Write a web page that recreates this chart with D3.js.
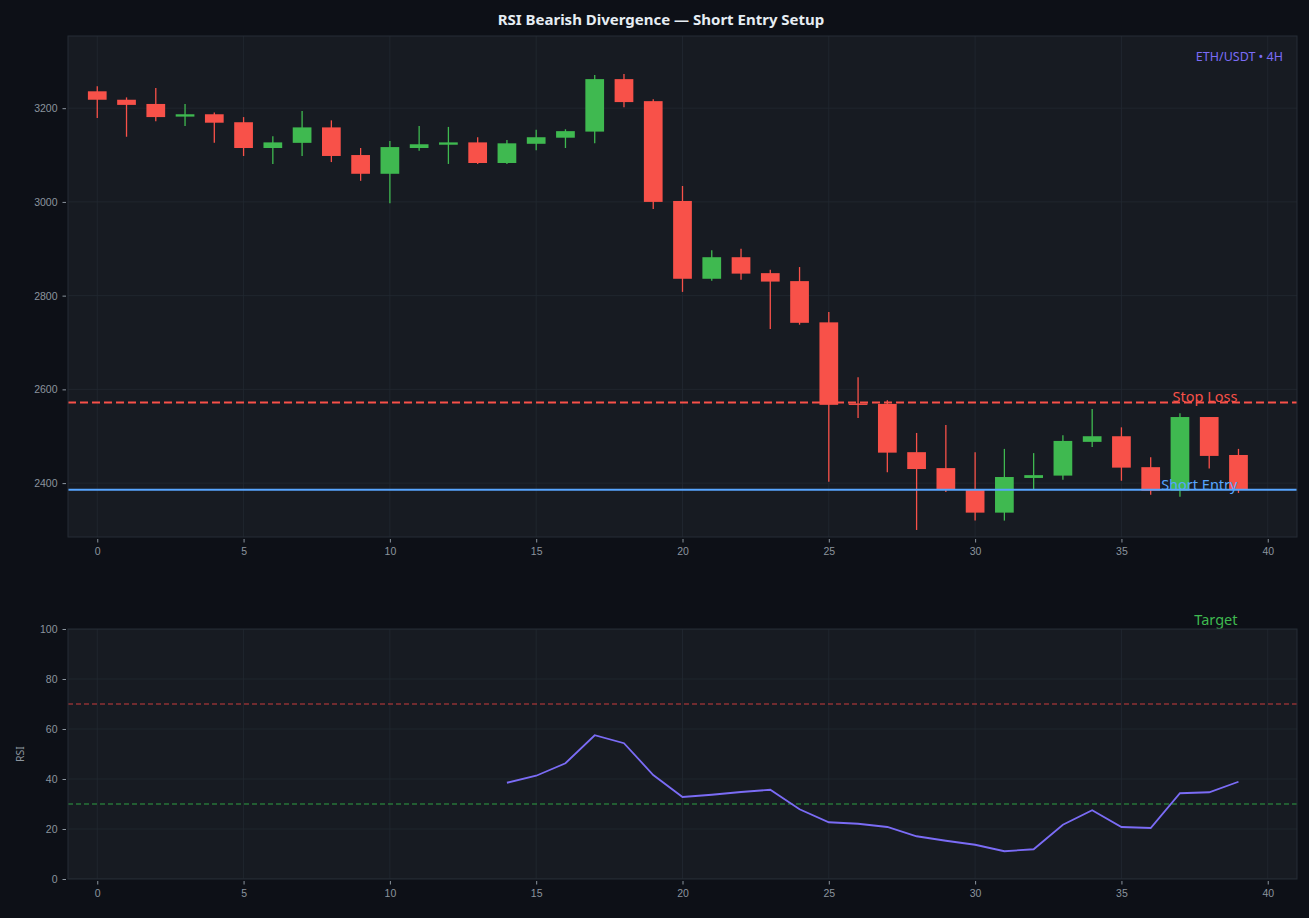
<!DOCTYPE html>
<html>
<head>
<meta charset="utf-8">
<script src="https://cdn.jsdelivr.net/npm/d3@7"></script>
<style>
  body { margin: 0; background: #0d1017; }
  svg { display: block; font-family: "Noto Sans", sans-serif; }
  .tick text { fill: #8b949e; font-size: 10.5px; }
  .tick line { stroke: #8b949e; }
  .domain { display: none; }
</style>
</head>
<body>
<div class="chart"></div>
<script>
// candle data
const candleIdx = d3.range(40);
const opens  = [3236,3218,3209,3182,3187,3170,3115,3126,3159,3100,3060,3115,3122,3127,3083,3124,3137,3150,3262,3215,
                3002,2836,2882,2848,2831,2743,2570,2569,2466,2432,2387,2337,2411,2416,2488,2500,2434,2384,2541,2460];
const highs  = [3247,3223,3243,3209,3191,3181,3140,3194,3174,3115,3130,3162,3160,3138,3132,3154,3155,3271,3273,3219,
                3034,2897,2900,2855,2861,2765,2626,2577,2507,2524,2466,2473,2464,2502,2558,2519,2455,2549,2541,2473];
const lows   = [3179,3139,3172,3162,3126,3098,3081,3098,3085,3045,2997,3109,3081,3081,3081,3110,3115,3125,3202,2985,
                2808,2832,2834,2729,2738,2403,2539,2423,2300,2381,2320,2320,2387,2407,2477,2405,2375,2371,2431,2379];
const closes = [3218,3207,3181,3187,3169,3115,3127,3159,3098,3060,3117,3123,3127,3083,3125,3138,3151,3262,3213,3000,
                2836,2882,2847,2830,2742,2567,2567,2465,2430,2387,2337,2413,2417,2490,2500,2433,2384,2541,2458,2387];

// RSI(14) - first 14 bars have no value
const rsiValues = [null,null,null,null,null,null,null,null,null,null,null,null,null,null,
                   38.5,41.3,46.3,57.5,54.3,41.6,32.8,33.7,34.8,35.7,27.9,22.7,22.1,20.8,17.1,15.3,
                   13.7,11.1,11.9,21.7,27.5,20.8,20.4,34.3,34.7,38.9];

const levelNames  = ['Stop Loss', 'Short Entry', 'Target'];
const levelPrices = [2572, 2386, 2097];
const levelColors = ['#f85149', '#58a6ff', '#3fb950'];

const xTicks     = [0, 5, 10, 15, 20, 25, 30, 35, 40];
const priceTicks = [2400, 2600, 2800, 3000, 3200];
const rsiTicks   = [0, 20, 40, 60, 80, 100];
const rsiLevels  = [70, 30];

const W = 1309, H = 918;
const plotL = 68, plotR = 1297;
const top1 = 36, bot1 = 537;
const top2 = 629, bot2 = 879;

const upColor = '#3fb950', downColor = '#f85149';
const gridColor = '#222831';

const candles = candleIdx.map(i => ({i, o: opens[i], h: highs[i], l: lows[i], c: closes[i]}));

const svg = d3.select('.chart').append('svg')
    .attr('width', W).attr('height', H);

svg.append('rect').attr('width', W).attr('height', H).attr('fill', '#0d1017');

const x = d3.scaleLinear().domain([-1, 41]).range([plotL, plotR]);
const yPrice = d3.scaleLinear().domain([2285, 3354]).range([bot1, top1]);
const yRsi = d3.scaleLinear().domain([0, 100]).range([bot2, top2]);

const defs = svg.append('defs');
defs.append('clipPath').attr('id', 'clip1').append('rect')
    .attr('x', plotL).attr('y', top1).attr('width', plotR - plotL).attr('height', bot1 - top1);
defs.append('clipPath').attr('id', 'clip2').append('rect')
    .attr('x', plotL).attr('y', top2).attr('width', plotR - plotL).attr('height', bot2 - top2);

// panel backgrounds
function panel(top, bot){
  svg.append('rect')
    .attr('x', plotL).attr('y', top)
    .attr('width', plotR - plotL).attr('height', bot - top)
    .attr('fill', '#171b22');
}
panel(top1, bot1);
panel(top2, bot2);

// grids
function grid(g, yScale, yTicks, top, bot){
  g.selectAll('.vgrid').data(xTicks).enter().append('line')
    .attr('x1', d => x(d)).attr('x2', d => x(d))
    .attr('y1', top).attr('y2', bot)
    .attr('stroke', gridColor).attr('stroke-width', 0.8);
  g.selectAll('.hgrid').data(yTicks).enter().append('line')
    .attr('x1', plotL).attr('x2', plotR)
    .attr('y1', d => yScale(d)).attr('y2', d => yScale(d))
    .attr('stroke', gridColor).attr('stroke-width', 0.8);
}
grid(svg.append('g').attr('clip-path', 'url(#clip1)'), yPrice, priceTicks, top1, bot1);
grid(svg.append('g').attr('clip-path', 'url(#clip2)'), yRsi, rsiTicks, top2, bot2);

// candles
const candleG = svg.append('g').attr('clip-path', 'url(#clip1)');
const bodyW = x(0.64) - x(0);
const colorOf = d => d.c >= d.o ? upColor : downColor;

candleG.selectAll('.wick').data(candles).enter().append('line')
  .attr('class', 'wick')
  .attr('x1', d => x(d.i)).attr('x2', d => x(d.i))
  .attr('y1', d => yPrice(d.h)).attr('y2', d => yPrice(d.l))
  .attr('stroke', colorOf).attr('stroke-width', 1.3);

candleG.selectAll('.body').data(candles).enter().append('rect')
  .attr('class', 'body')
  .attr('x', d => x(d.i) - bodyW / 2)
  .attr('width', bodyW)
  .attr('y', d => yPrice(Math.max(d.o, d.c)))
  .attr('height', d => Math.max(1.5, Math.abs(yPrice(d.o) - yPrice(d.c))))
  .attr('fill', colorOf);

// trade levels
const levels = levelNames.map((n, k) => ({name: n, price: levelPrices[k], color: levelColors[k]}));
candleG.selectAll('.level').data(levels).enter().append('line')
  .attr('x1', plotL).attr('x2', plotR)
  .attr('y1', d => yPrice(d.price)).attr('y2', d => yPrice(d.price))
  .attr('stroke', d => d.color)
  .attr('stroke-width', d => d.name === 'Stop Loss' ? 1.8 : 2)
  .attr('stroke-dasharray', d => d.name === 'Short Entry' ? null : '8,4');

svg.selectAll('.level-label').data(levels).enter().append('text')
  .attr('x', x(39) - 1).attr('y', d => yPrice(d.price))
  .attr('text-anchor', 'end')
  .attr('fill', d => d.color)
  .style('font-size', '14.5px')
  .text(d => d.name);

// RSI levels + line
const rsiG = svg.append('g').attr('clip-path', 'url(#clip2)');
rsiG.selectAll('.rsi-level').data(rsiLevels).enter().append('line')
  .attr('x1', plotL).attr('x2', plotR)
  .attr('y1', d => yRsi(d)).attr('y2', d => yRsi(d))
  .attr('stroke', d => d === 70 ? '#c93c3c' : '#2ea043')
  .attr('stroke-width', 1.1)
  .attr('stroke-dasharray', '5,3');

const rsiLine = d3.line()
  .defined(d => d != null)
  .x((d, i) => x(i))
  .y(d => yRsi(d));

rsiG.append('path')
  .datum(rsiValues)
  .attr('d', rsiLine)
  .attr('fill', 'none')
  .attr('stroke', '#7b6cf6')
  .attr('stroke-width', 1.8);

// borders
[[top1, bot1], [top2, bot2]].forEach(([t, b]) => {
  svg.append('rect')
    .attr('x', plotL).attr('y', t)
    .attr('width', plotR - plotL).attr('height', b - t)
    .attr('fill', 'none').attr('stroke', '#262c36').attr('stroke-width', 1);
});

// axes
function styleAxis(g){
  g.selectAll('.tick line').attr('stroke', '#8b949e');
  g.selectAll('.tick text').attr('fill', '#8b949e');
}
const xAxis = d3.axisBottom(x).tickValues(xTicks).tickSize(3.5).tickPadding(5);
svg.append('g').attr('transform', `translate(0,${bot1 + 2})`).call(xAxis).call(styleAxis);
svg.append('g').attr('transform', `translate(0,${bot2 + 2})`).call(xAxis).call(styleAxis);

svg.append('g').attr('transform', `translate(${plotL - 2},0)`)
  .call(d3.axisLeft(yPrice).tickValues(priceTicks).tickFormat(d3.format('d')).tickSize(3.5).tickPadding(5))
  .call(styleAxis);
svg.append('g').attr('transform', `translate(${plotL - 2},0)`)
  .call(d3.axisLeft(yRsi).tickValues(rsiTicks).tickSize(3.5).tickPadding(5)).call(styleAxis);

// labels
svg.append('text')
  .attr('transform', `translate(24,${(top2 + bot2) / 2}) rotate(-90)`)
  .attr('text-anchor', 'middle')
  .attr('fill', '#8b949e')
  .style('font-size', '10.5px')
  .text('RSI');

svg.append('text')
  .attr('x', 661).attr('y', 25)
  .attr('text-anchor', 'middle')
  .attr('fill', '#e6edf3')
  .style('font-size', '15px').style('font-weight', 'bold')
  .text('RSI Bearish Divergence — Short Entry Setup');

svg.append('text')
  .attr('x', plotR - 14).attr('y', 61)
  .attr('text-anchor', 'end')
  .attr('fill', '#7b6cf6')
  .style('font-size', '12.5px')
  .text('ETH/USDT • 4H');
</script>
</body>
</html>
